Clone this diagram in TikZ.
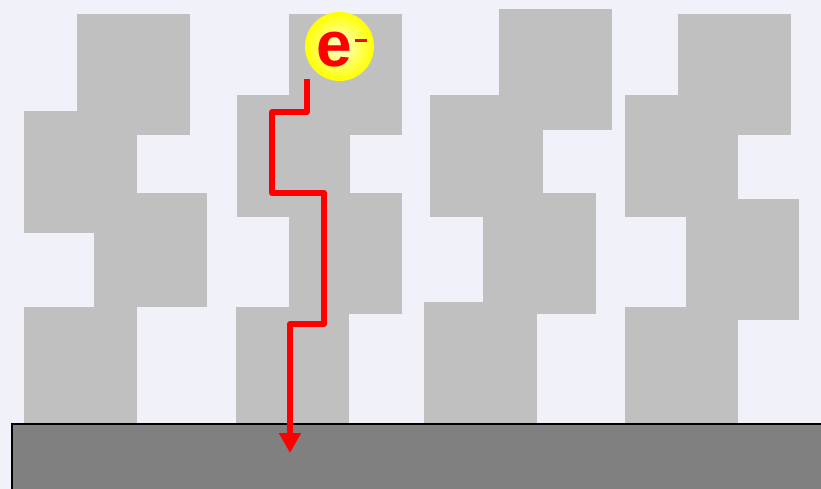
\documentclass[tikz,border=0pt]{standalone}
\usepackage{fontspec}
\setmainfont{Liberation Sans}
\usetikzlibrary{arrows.meta}
\definecolor{bgc}{HTML}{F1F1F9}
\definecolor{blk}{HTML}{C0C0C0}
\definecolor{subc}{HTML}{808080}
\tikzset{
  grain/.style={fill=blk, draw=none},
  path e/.style={draw=red, line width=6pt, line join=round, -{Triangle[width=21pt,length=20pt]}},
}
\begin{document}
\begin{tikzpicture}[x=1pt,y=-1pt]
\useasboundingbox (0,0) rectangle (821,489);
\fill[bgc] (0,0) rectangle (821,489);
% column 1
\fill[grain] (77,14) rectangle (190,135);
\fill[grain] (24,111) rectangle (137,233);
\fill[grain] (94,193) rectangle (207,307);
\fill[grain] (24,307) rectangle (137,423);
% column 2
\fill[grain] (289,14) rectangle (402,135);
\fill[grain] (237,95) rectangle (350,217);
\fill[grain] (289,193) rectangle (402,314);
\fill[grain] (236,307) rectangle (349,423);
% column 3
\fill[grain] (499,9) rectangle (612,130);
\fill[grain] (430,95) rectangle (543,217);
\fill[grain] (483,193) rectangle (596,314);
\fill[grain] (424,302) rectangle (537,423);
% column 4
\fill[grain] (678,14) rectangle (791,135);
\fill[grain] (625,95) rectangle (738,217);
\fill[grain] (686,199) rectangle (799,320);
\fill[grain] (625,307) rectangle (738,423);
% substrate
\node[draw=black, line width=1.5pt, fill=subc, minimum width=830pt, minimum height=70pt, anchor=north west, inner sep=0pt] (sub) at (11,423) {};
% electron
\shade[inner color=yellow!15, outer color=yellow] (339.5,46.5) circle (34.5);
\node[inner sep=0pt, font=\bfseries\fontsize{64}{64}\selectfont, text=red] (e) at (334,50) {e};
\node[inner sep=0pt, fill=red, minimum width=12pt, minimum height=3.5pt] (minus) at (361,40.5) {};
% path of electron
\coordinate (s) at (307,79);
\coordinate (t) at (290,453);
\draw[path e] (s) -- (307,112) -- (272,112) -- (272,193) -- (324,193) -- (324,324) -- (290,324) -- (t);
\end{tikzpicture}
\end{document}
